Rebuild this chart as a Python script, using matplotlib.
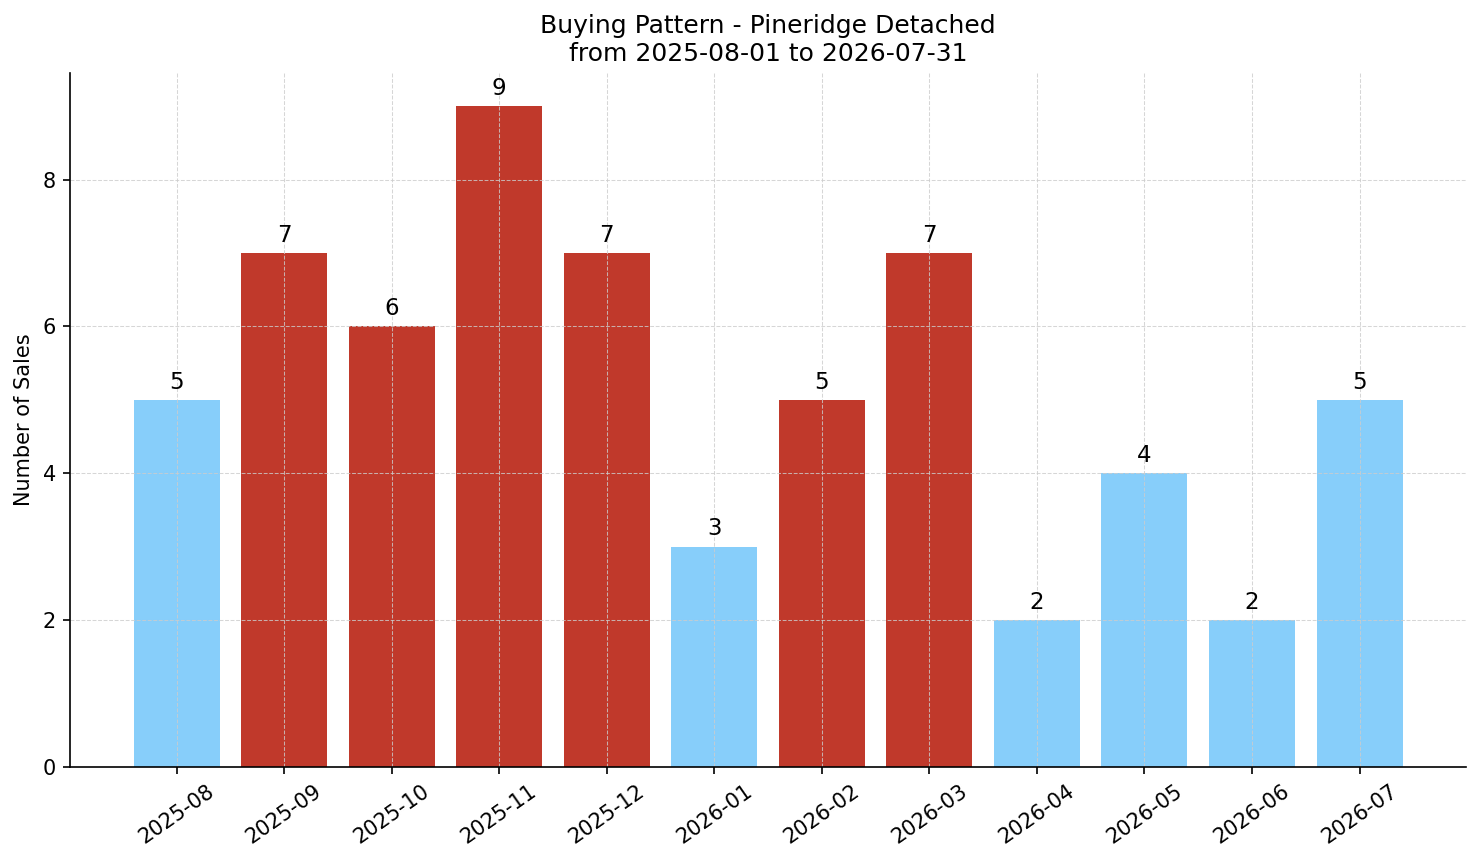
import matplotlib
matplotlib.use("Agg")
import matplotlib.pyplot as plt

# monthly sales counts
months = ["2025-08", "2025-09", "2025-10", "2025-11", "2025-12", "2026-01",
          "2026-02", "2026-03", "2026-04", "2026-05", "2026-06", "2026-07"]
sales = [5, 7, 6, 9, 7, 3, 5, 7, 2, 4, 2, 5]
bar_colors = ["#87cefa", "#c0392b", "#c0392b", "#c0392b", "#c0392b", "#87cefa",
              "#c0392b", "#c0392b", "#87cefa", "#87cefa", "#87cefa", "#87cefa"]

fig, ax = plt.subplots(figsize=(14.81, 8.63), dpi=100)
fig.subplots_adjust(left=0.0473, right=0.9899, top=0.9154, bottom=0.1112)

bars = ax.bar(months, sales, color=bar_colors, width=0.8)
ax.bar_label(bars, padding=4.5, fontsize=16.5)

ax.set_title("Buying Pattern - Pineridge Detached\nfrom 2025-08-01 to 2026-07-31",
             fontsize=18, pad=9)
ax.set_ylabel("Number of Sales", fontsize=15, labelpad=6)
ax.tick_params(axis="both", labelsize=15, length=5.25, width=1.2, pad=5)
plt.setp(ax.get_xticklabels(), rotation=35)

ax.grid(True, linestyle="--", color="#cccccc", linewidth=0.75, alpha=0.8)
ax.spines["top"].set_visible(False)
ax.spines["right"].set_visible(False)
ax.spines["left"].set_linewidth(1.2)
ax.spines["bottom"].set_linewidth(1.2)

fig.savefig("out.png", dpi=100)
